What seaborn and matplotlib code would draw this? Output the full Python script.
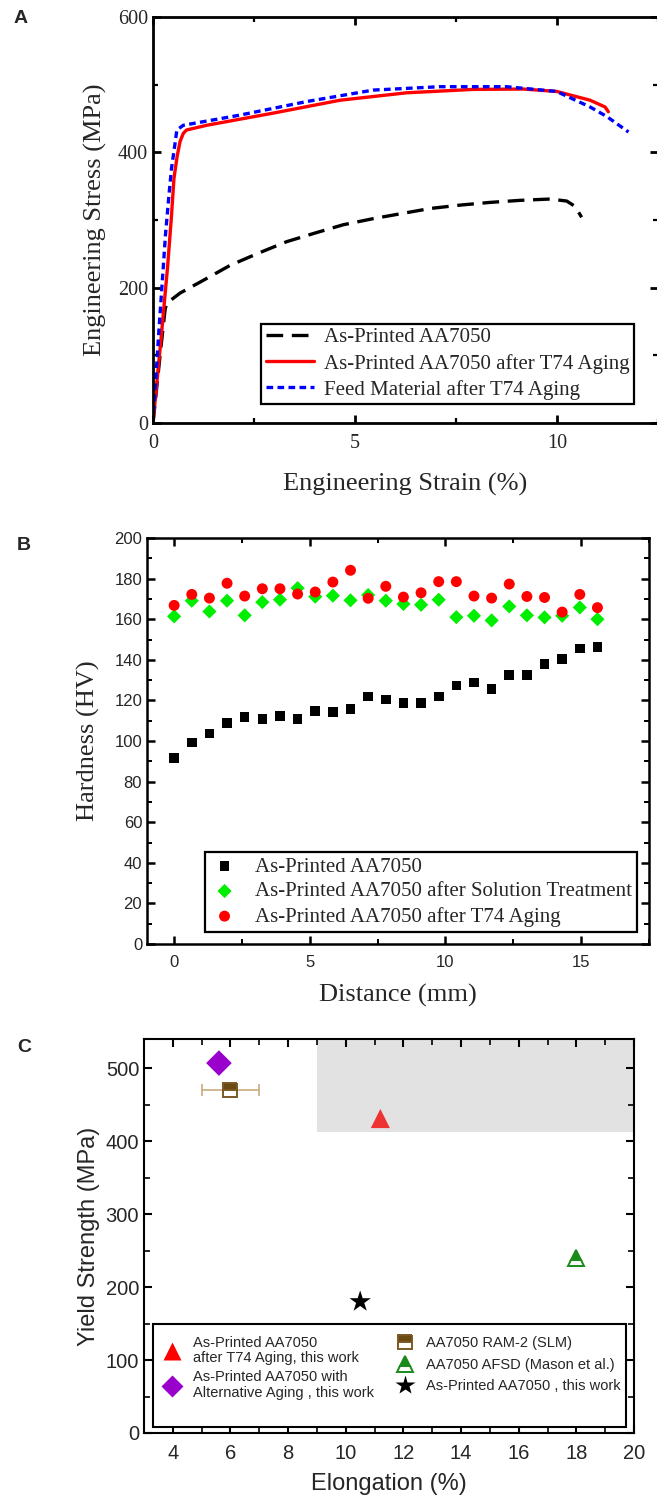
import matplotlib
matplotlib.use("Agg")
import matplotlib.pyplot as plt
import seaborn as sns
import numpy as np
import pandas as pd
from matplotlib.ticker import MultipleLocator
from matplotlib.patches import Rectangle
from matplotlib.lines import Line2D

# ---------------- Panel A data ----------------
strain_as_printed = [0, 0.1, 0.2, 0.3, 0.34, 0.67, 1.25, 1.91, 2.61, 3.31, 3.97, 4.71,
                     5.45, 6.2, 6.86, 7.6, 8.34, 9.08, 9.83, 10.24, 10.45, 10.61]
stress_as_printed = [0, 57, 114, 168, 177, 192, 211, 233, 251, 268, 280, 293,
                     302, 310, 317, 322, 326, 329, 331, 328, 320, 304]

strain_t74 = [0, 0.2, 0.36, 0.45, 0.52, 0.6, 0.67, 0.75, 0.83, 1.33, 2.98, 4.63,
              6.28, 7.93, 9.17, 9.99, 10.82, 11.19, 11.27]
stress_t74 = [0, 125, 230, 300, 362, 395, 416, 428, 433, 440, 458, 477,
              488, 493, 493.5, 490, 477, 467, 460]

strain_feed = [0, 0.15, 0.31, 0.4, 0.46, 0.55, 0.59, 0.75, 2.15, 3.8, 5.45,
               7.1, 8.75, 9.99, 10.82, 11.23, 11.77]
stress_feed = [0, 140, 279, 340, 377, 415, 433, 440, 455, 475, 492,
               497, 497, 490, 467, 453, 430]

labels_a = ["As-Printed AA7050", "As-Printed AA7050 after T74 Aging",
            "Feed Material after T74 Aging"]

# ---------------- Panel B data ----------------
distance_mm = [0, 0.65, 1.3, 1.95, 2.6, 3.25, 3.9, 4.55, 5.2, 5.85, 6.5, 7.15, 7.8,
               8.45, 9.1, 9.75, 10.4, 11.05, 11.7, 12.35, 13.0, 13.65, 14.3, 14.95, 15.6]
hard_as_printed = [91.5, 99.3, 103.7, 109, 111.7, 110.8, 112.2, 110.9, 114.9, 114.2,
                   115.9, 122, 120.5, 118.8, 118.8, 122, 127.4, 128.8, 125.7, 132.6,
                   132.6, 138, 140.5, 145.6, 146.4]
hard_solution = [161.4, 169.1, 163.8, 169.1, 161.9, 168.4, 169.6, 175.3, 171.1, 171.6,
                 169.3, 171.9, 169.1, 167.5, 167.1, 169.6, 161, 161.7, 159.4, 166.3,
                 161.9, 160.9, 161.7, 165.8, 160]
hard_t74 = [166.8, 172.2, 170.4, 177.7, 171.4, 175, 175, 172.4, 173.4, 178.3,
            184.1, 170.3, 176.2, 170.9, 173, 178.5, 178.5, 171.4, 170.4, 177.3,
            171.2, 170.7, 163.5, 172.2, 165.7]
labels_b = ["As-Printed AA7050", "As-Printed AA7050 after Solution Treatment",
            "As-Printed AA7050 after T74 Aging"]

# ---------------- Panel C data ----------------
c_labels = ["As-Printed AA7050\nafter T74 Aging, this work",
            "As-Printed AA7050 with\nAlternative Aging , this work",
            "AA7050 RAM-2 (SLM)",
            "AA7050 AFSD (Mason et al.)",
            "As-Printed AA7050 , this work"]
c_elong = [11.2, 5.6, 6.0, 18.0, 10.5]
c_yield = [431, 507, 470, 240, 180]
c_elong_err = [0, 0, 1.0, 0, 0]
target_x = [9, 20]
target_ylow = [413, 413]
target_yhigh = [540, 540]

# ---------------- Style ----------------
sns.set_style("ticks")
SERIF = ["Liberation Serif", "DejaVu Serif"]
SANS = ["Liberation Sans", "DejaVu Sans"]
plt.rcParams["font.family"] = SERIF

W, H = 657, 1500
fig = plt.figure(figsize=(W / 100, H / 100), dpi=100)


def box(l, t, r, b):
    return [l / W, 1 - b / H, (r - l) / W, (b - t) / H]


def style_axes(ax, lw=1.8):
    for s in ax.spines.values():
        s.set_linewidth(lw)
        s.set_color("black")
        s.set_visible(True)
    ax.tick_params(which="both", direction="in", top=True, right=True, color="black")
    ax.tick_params(which="major", length=6, width=lw)
    ax.tick_params(which="minor", length=3.5, width=lw * 0.8)


# ---------------- Panel A ----------------
axA = fig.add_axes(box(153, 17, 658, 423))
sns.lineplot(x=strain_as_printed, y=stress_as_printed, ax=axA, color="black", lw=2.4,
             linestyle=(0, (5, 2.6)), sort=False, estimator=None, label=labels_a[0])
sns.lineplot(x=strain_t74, y=stress_t74, ax=axA, color="#ff0000", lw=2.4,
             linestyle="-", sort=False, estimator=None, label=labels_a[1])
sns.lineplot(x=strain_feed, y=stress_feed, ax=axA, color="#0000ff", lw=2.4,
             linestyle=(0, (2.0, 1.3)), sort=False, estimator=None, label=labels_a[2])
axA.set_xlim(0, 12.5)
axA.set_ylim(0, 600)
axA.xaxis.set_major_locator(MultipleLocator(5))
axA.xaxis.set_minor_locator(MultipleLocator(2.5))
axA.yaxis.set_major_locator(MultipleLocator(200))
axA.yaxis.set_minor_locator(MultipleLocator(100))
style_axes(axA, 2.0)
for t in axA.get_xticklabels() + axA.get_yticklabels():
    t.set_fontfamily(SERIF)
    t.set_fontsize(14.5)
axA.tick_params(axis="x", pad=8)
axA.set_xlabel("Engineering Strain (%)", fontsize=19, family=SERIF, labelpad=14)
axA.set_ylabel("Engineering Stress (MPa)", fontsize=19, family=SERIF, labelpad=8)
legA = axA.legend(loc="lower right", bbox_to_anchor=(0.952, 0.047), borderaxespad=0,
                  fancybox=False, edgecolor="black", framealpha=1,
                  handlelength=2.3, handletextpad=0.5, labelspacing=0.3,
                  borderpad=0.2, prop={"family": SERIF, "size": 15})
legA.get_frame().set_linewidth(1.6)

# ---------------- Panel B ----------------
axB = fig.add_axes(box(147, 538, 649, 944))
sns.scatterplot(x=distance_mm, y=hard_as_printed, ax=axB, marker="s", color="black",
                s=48, edgecolor="none", label=labels_b[0], zorder=3)
sns.scatterplot(x=distance_mm, y=hard_solution, ax=axB, marker="D", color="#00ee00",
                s=52, edgecolor="none", label=labels_b[1], zorder=3)
sns.scatterplot(x=distance_mm, y=hard_t74, ax=axB, marker="o", color="#ff0000",
                s=62, edgecolor="none", label=labels_b[2], zorder=4)
axB.set_xlim(-1.0, 17.5)
axB.set_ylim(0, 200)
axB.xaxis.set_major_locator(MultipleLocator(5))
axB.xaxis.set_minor_locator(MultipleLocator(2.5))
axB.yaxis.set_major_locator(MultipleLocator(20))
axB.yaxis.set_minor_locator(MultipleLocator(10))
style_axes(axB, 1.8)
for t in axB.get_xticklabels() + axB.get_yticklabels():
    t.set_fontfamily(SANS)
    t.set_fontsize(12)
axB.tick_params(axis="x", pad=8)
axB.set_xlabel("Distance (mm)", fontsize=19, family=SERIF, labelpad=10)
axB.set_ylabel("Hardness (HV)", fontsize=19, family=SERIF, labelpad=10)
legB = axB.legend(loc="lower right", bbox_to_anchor=(0.976, 0.03), borderaxespad=0,
                  fancybox=False, edgecolor="black", framealpha=1,
                  handlelength=1.4, handletextpad=0.75, labelspacing=0.25,
                  borderpad=0.25, prop={"family": SERIF, "size": 15})
legB.get_frame().set_linewidth(1.6)

# ---------------- Panel C ----------------
axC = fig.add_axes(box(144, 1039, 634, 1433))
axC.fill_between(target_x, target_ylow, target_yhigh, color="#e2e2e2", lw=0, zorder=0)
df_c = pd.DataFrame({"elong": c_elong, "ys": c_yield, "label": c_labels})
sns.scatterplot(data=df_c.iloc[[0]], x="elong", y="ys", ax=axC, marker="^",
                color="#ee3333", s=190, edgecolor="none", zorder=3, legend=False)
sns.scatterplot(data=df_c.iloc[[1]], x="elong", y="ys", ax=axC, marker="D",
                color="#9900cc", s=170, edgecolor="none", zorder=3, legend=False)
sns.scatterplot(data=df_c.iloc[[4]], x="elong", y="ys", ax=axC, marker="*",
                color="black", s=260, edgecolor="none", zorder=3, legend=False)
axC.errorbar(c_elong[2], c_yield[2], xerr=c_elong_err[2], fmt="none",
             ecolor="#c8ab82", elinewidth=1.2, capsize=4, capthick=1.2, zorder=2)
axC.plot(c_elong[2], c_yield[2], marker="s", ms=10, fillstyle="top",
         markerfacecolor="#6b4a12", markerfacecoloralt="white",
         markeredgecolor="#7a5a22", mew=1.4, ls="none", zorder=3)
axC.plot(c_elong[3], c_yield[3], marker="^", ms=12, fillstyle="top",
         markerfacecolor="#1a8a1a", markerfacecoloralt="white",
         markeredgecolor="#1a8a1a", mew=1.4, ls="none", zorder=3)
axC.set_xlim(3, 20)
axC.set_ylim(0, 540)
axC.xaxis.set_major_locator(MultipleLocator(2))
axC.xaxis.set_minor_locator(MultipleLocator(1))
axC.yaxis.set_major_locator(MultipleLocator(100))
axC.yaxis.set_minor_locator(MultipleLocator(50))
style_axes(axC, 1.5)
axC.tick_params(which="major", length=6)
axC.tick_params(which="minor", length=4)
for t in axC.get_xticklabels() + axC.get_yticklabels():
    t.set_fontfamily(SANS)
    t.set_fontsize(14.5)
axC.tick_params(axis="x", pad=8)
axC.set_xlabel("Elongation (%)", fontsize=17, family=SANS, labelpad=7)
axC.set_ylabel("Yield Strength (MPa)", fontsize=17, family=SANS, labelpad=4)

axC.add_patch(Rectangle((0.018, 0.015), 0.966, 0.262, transform=axC.transAxes,
                        fill=True, facecolor="white", edgecolor="black", lw=1.5,
                        zorder=5))
h_red = Line2D([], [], marker="^", color="#ff0000", ms=13, ls="none", mec="none")
h_purple = Line2D([], [], marker="D", color="#9900cc", ms=11, ls="none", mec="none")
h_brown = Line2D([], [], marker="s", ms=10, fillstyle="top", markerfacecolor="#6b4a12",
                 markerfacecoloralt="white", markeredgecolor="#7a5a22", mew=1.4, ls="none")
h_green = Line2D([], [], marker="^", ms=12, fillstyle="top", markerfacecolor="#1a8a1a",
                 markerfacecoloralt="white", markeredgecolor="#1a8a1a", mew=1.4, ls="none")
h_star = Line2D([], [], marker="*", color="black", ms=15, ls="none", mec="none")
leg1 = axC.legend([h_red, h_purple], c_labels[:2], loc="upper left",
                  bbox_to_anchor=(0.043, 0.247), borderaxespad=0, borderpad=0,
                  frameon=False, handlelength=1.0, handletextpad=0.9,
                  labelspacing=0.35, prop={"family": SANS, "size": 10.5})
for t in leg1.get_texts():
    t.set_linespacing(1.15)
leg1.set_zorder(6)
axC.add_artist(leg1)
leg2 = axC.legend([h_brown, h_green, h_star], c_labels[2:], loc="upper left",
                  bbox_to_anchor=(0.518, 0.245), borderaxespad=0, borderpad=0,
                  frameon=False, handlelength=1.0, handletextpad=0.9,
                  labelspacing=0.5, prop={"family": SANS, "size": 10.5})
leg2.set_zorder(6)

# ---------------- Panel letters ----------------
for letter, (x, y) in {"A": (14, 10), "B": (17, 537), "C": (17, 1039)}.items():
    fig.text(x / W, 1 - y / H, letter, fontsize=14, fontweight="bold",
             family=SANS, va="top", ha="left")

fig.savefig("out.png", dpi=100)
